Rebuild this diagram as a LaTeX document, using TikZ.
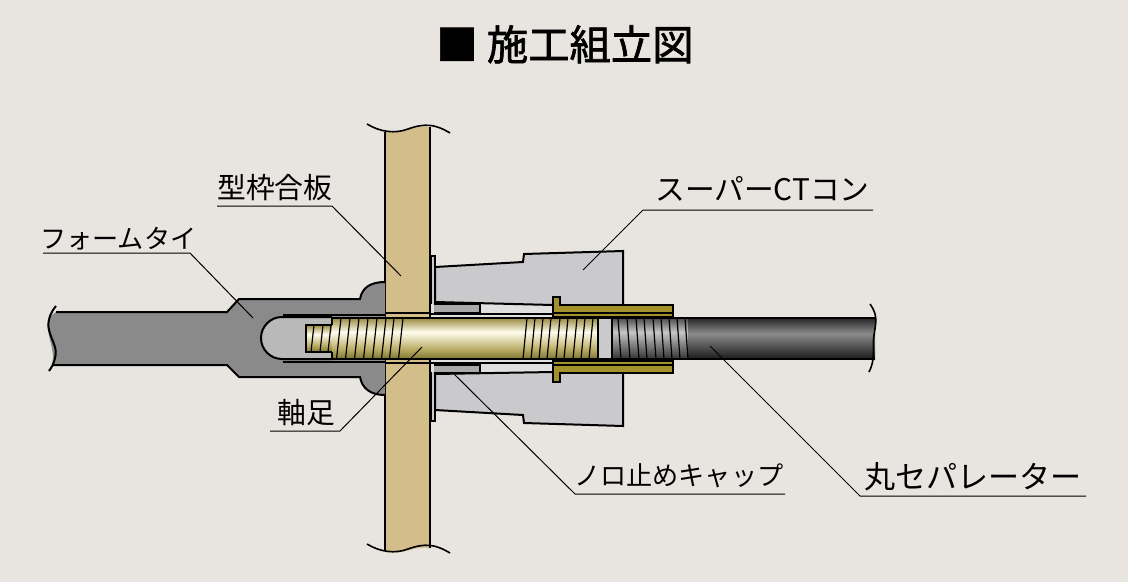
\documentclass[tikz,border=0pt]{standalone}
\usepackage{fontspec}
\setmainfont{Noto Sans CJK JP}
\newfontfamily\titlefont[FakeBold=1.6]{Noto Sans CJK JP}
\definecolor{bgc}{HTML}{E8E5E1}
\definecolor{plankc}{HTML}{D3BE8A}
\definecolor{tiec}{HTML}{8A8A8A}
\definecolor{conec}{HTML}{CACACC}
\definecolor{capc}{HTML}{A9A9A9}
\definecolor{voidc}{HTML}{E0E0E0}
\definecolor{cavc}{HTML}{B9B9B9}
\definecolor{sleevec}{HTML}{A3912C}
\pgfdeclareverticalshading{goldrod}{100bp}{
  rgb(0bp)=(.50,.46,.18);
  rgb(25bp)=(.50,.46,.18);
  rgb(38bp)=(.74,.69,.42);
  rgb(58bp)=(1,.99,.93);
  rgb(75bp)=(.60,.54,.25);
  rgb(100bp)=(.60,.54,.25)}
\pgfdeclareverticalshading{darkthread}{100bp}{
  color(0bp)=(black!80);
  color(25bp)=(black!80);
  color(58bp)=(black!22);
  color(75bp)=(black!70);
  color(100bp)=(black!70)}
\pgfdeclareverticalshading{darkrod}{100bp}{
  color(0bp)=(black!90);
  color(25bp)=(black!90);
  color(56bp)=(black!45);
  color(75bp)=(black!85);
  color(100bp)=(black!85)}
\tikzset{
  outline/.style={draw=black,line width=1.5pt,line join=miter},
  thin line/.style={draw=black,line width=0.9pt},
  leader/.style={draw=black,line width=0.75pt},
  lbl/.style={inner sep=0pt,anchor=base west,font=\fontsize{19.6pt}{20pt}\selectfont},
  widelbl/.style={lbl,font=\fontsize{22.3pt}{23pt}\selectfont},
  sepfont/.style={lbl,font=\fontsize{23.3pt}{24pt}\selectfont},
  kanji/.style={lbl,font=\fontsize{21.6pt}{22pt}\selectfont}
}
\begin{document}
\begin{tikzpicture}[x=0.75pt,y=-0.75pt]
  \useasboundingbox (0,0) rectangle (1128,582);
  \fill[bgc] (0,0) rectangle (1128,582);
  \node[anchor=base west,inner sep=0pt,font=\titlefont\fontsize{31pt}{32pt}\selectfont] (title) at (436,60) {■ 施工組立図};

  % plank
  \fill[plankc] (385,131) .. controls (405,134) and (412,125) .. (430,127) -- (430,548) .. controls (412,546) and (405,555) .. (385,552) -- cycle;
  \draw[outline] (385,132) -- (385,550);
  \draw[outline] (430,127) -- (430,548);
  \draw[line width=1.2pt] (367,124) .. controls (380,132) and (395,134) .. (408,129) .. controls (425,123) and (435,124) .. (450,133);
  \draw[line width=1.2pt] (367,544) .. controls (380,552) and (395,554) .. (408,549) .. controls (425,543) and (435,544) .. (450,553);

  % form tie
  \filldraw[fill=tiec,draw=none] (56,312) -- (227,312) -- (239,299) -- (360,299)
    .. controls (362,288) and (370,282) .. (385,282) -- (385,395)
    .. controls (370,395) and (362,388) .. (360,377) -- (239,377) -- (227,365) -- (52,365)
    .. controls (56,350) and (46,335) .. (48,323) .. controls (49,318) and (52,314) .. (56,312) -- cycle;
  \draw[outline] (56,312) -- (227,312) -- (239,299) -- (360,299)
    .. controls (362,288) and (370,282) .. (385,282);
  \draw[outline] (52,365) -- (227,365) -- (239,377) -- (360,377)
    .. controls (362,388) and (370,395) .. (385,395);
  \draw[outline] (56,306) .. controls (50,313) and (47,322) .. (49,330) .. controls (52,342) and (58,348) .. (55,358) .. controls (54,363) and (52,367) .. (49,371);
  % cavity
  \draw[outline] (283,314.5) -- (385,314.5);
  \draw[outline] (283,362) -- (385,362);
  \filldraw[fill=cavc,outline] (332,317) -- (282,317) arc[start angle=-90,end angle=-270,radius=21] -- (332,359);

  % washer plate and cones
  \filldraw[fill=conec,outline] (431,256) -- (435,256) -- (435,421) -- (431,421) -- cycle;
  \filldraw[fill=voidc,draw=none] (431,304) rectangle (553,372);
  \filldraw[fill=conec,outline] (435,267) -- (523,262) -- (524,254) -- (623,251) -- (623,305) -- (553,305) -- (435,302) -- cycle;
  \filldraw[fill=conec,outline] (435,374) -- (553,372) -- (623,373) -- (623,426) -- (524,423) -- (523,415) -- (435,410) -- cycle;
  % caps
  \filldraw[fill=capc,outline] (434,304) -- (480,304) -- (480,313) -- (434,313);
  \filldraw[fill=capc,outline] (434,365) -- (480,365) -- (480,373) -- (434,373);
  \draw[outline] (430,314) -- (553,314);
  \draw[outline] (385,313) -- (430,313);
  \draw[outline] (385,363) -- (553,363);

  % sleeve
  \filldraw[fill=sleevec,outline] (553,317) -- (553,297) -- (560,297) -- (560,305) -- (673,305) -- (673,317) -- cycle;
  \filldraw[fill=sleevec,outline] (553,361) -- (553,382) -- (560,382) -- (560,373) -- (673,373) -- (673,361) -- cycle;
  \draw[outline] (553,312.5) -- (673,312.5);
  \draw[outline] (553,365) -- (673,365);

  % rod
  \shade[shading=goldrod] (306,325) rectangle (332,352);
  \shade[shading=goldrod] (332,318) rectangle (598,359);
  \fill[conec] (598,318) rectangle (612,359);
  \shade[shading=darkthread] (612,318) rectangle (688,359);
  \shade[shading=darkrod] (688,318) rectangle (875,359);
  \draw[outline] (332,325) -- (306,325) -- (306,352) -- (332,352);
  \draw[outline] (332,318) -- (875,318);
  \draw[outline] (332,359) -- (875,359);
  \draw[outline] (332,325) -- (332,318);
  \draw[outline] (332,352) -- (332,359);
  \draw[thin line] (598,318) -- (598,359);
  \draw[thin line] (612,318) -- (612,359);
  \foreach \xpos in {314,323,331}
    \draw[thin line] (\xpos,325) -- (\xpos-3,352);
  \foreach \xpos in {341,350,359,368,377,386,394,403}
    \draw[thin line] (\xpos,318) -- (\xpos-4.5,359);
  \foreach \xpos in {527,535,543,551,560,568,577,585,593}
    \draw[thin line] (\xpos,318) -- (\xpos-4,359);
  \foreach \xpos in {618,627,636,644,653,661,669,677,685}
    \draw[thin line] (\xpos,318) -- (\xpos+3,359);
  % rod end
  \draw[line width=1.2pt] (870,304) .. controls (878,315) and (876,322) .. (874,335) .. controls (872,350) and (876,358) .. (869,372);

  % leaders
  \node[lbl] (tieLbl) at (40,248) {フォームタイ};
  \node[kanji] (plyLbl) at (217,198) {型枠合板};
  \node[widelbl] (conLbl) at (655,200) {スーパーCTコン};
  \node[kanji] (footLbl) at (277,423) {軸足};
  \node[lbl] (capLbl) at (574,485) {ノロ止めキャップ};
  \node[sepfont] (sepLbl) at (864,488) {丸セパレーター};

  \coordinate (tieL) at (43,253);
  \coordinate (tieR) at (190,253);
  \coordinate (tieEnd) at (253,318);
  \coordinate (plyL) at (217,206);
  \coordinate (plyR) at (332,206);
  \coordinate (plyEnd) at (401,276);
  \coordinate (conR) at (873,210);
  \coordinate (conL) at (643,210);
  \coordinate (conEnd) at (583,270);
  \coordinate (footL) at (270,431);
  \coordinate (footR) at (340,431);
  \coordinate (footEnd) at (422,347);
  \coordinate (capR) at (785,494);
  \coordinate (capL) at (575,494);
  \coordinate (capEnd) at (452,372);
  \coordinate (sepR) at (1086,496);
  \coordinate (sepL) at (860,496);
  \coordinate (sepEnd) at (710,346);
  \draw[leader] (tieL) -- (tieR) -- (tieEnd);
  \draw[leader] (plyL) -- (plyR) -- (plyEnd);
  \draw[leader] (conR) -- (conL) -- (conEnd);
  \draw[leader] (footL) -- (footR) -- (footEnd);
  \draw[leader] (capR) -- (capL) -- (capEnd);
  \draw[leader] (sepR) -- (sepL) -- (sepEnd);
\end{tikzpicture}
\end{document}
